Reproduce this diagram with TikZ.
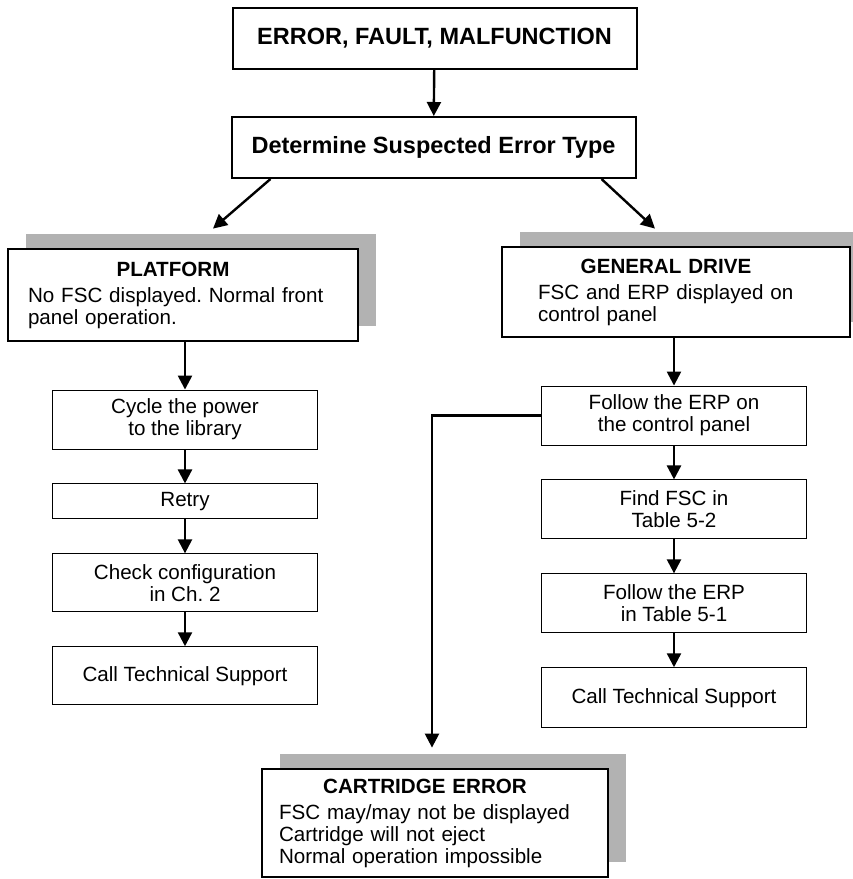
\documentclass[tikz,border=0pt]{standalone}
\usepackage{fontspec}
\setmainfont{Liberation Sans}
\usetikzlibrary{positioning,arrows.meta,shadows}
\definecolor{shadowgray}{HTML}{B2B2B2}
\newcommand\boxtitle[1]{\makebox[\hsize][c]{\bfseries #1\hspace*{20pt}}\\[4pt]}
\frenchspacing

\begin{document}
\begin{tikzpicture}[x=1pt, y=-1pt,
  node distance=34pt,
  font=\fontsize{20.6}{22}\selectfont,
  topbox/.style={draw, line width=2pt, font=\fontsize{23.5}{25}\selectfont\bfseries, minimum height=61pt, minimum width=404pt},
  head/.style={draw, line width=2.8pt, fill=white, align=left, inner ysep=0pt,
    drop shadow={shadow xshift=18pt, shadow yshift=15pt, fill=shadowgray, opacity=1}},
  stepbox/.style={draw, line width=0.9pt, align=center, minimum width=265pt, inner sep=0pt},
  arr/.style={-{Triangle[length=14pt, width=14pt]}, line width=2.4pt}]
  \useasboundingbox (0,0) rectangle (853,879);
  \node[topbox] (err) at (434.5,38.5) {ERROR, FAULT, MALFUNCTION};
  \node[topbox] (det) at (433.5,147.5) {Determine Suspected Error Type};
  \node[head, text width=310pt, inner xsep=20pt, minimum height=92pt] (plat) at (183,295) {\boxtitle{PLATFORM}No FSC displayed. Normal front\\panel operation.};
  \node[head, text width=276pt, inner xsep=36pt, minimum height=90pt] (gd) at (676,292) {\boxtitle{GENERAL DRIVE}FSC and ERP displayed on\\control panel};
  \node[head, text width=312pt, inner xsep=17pt, minimum height=108pt] (cart) at (435,823) {\boxtitle{CARTRIDGE ERROR}FSC may/may not be displayed\\Cartridge will not eject\\Normal operation impossible};

  % left column
  \node[stepbox, minimum height=59pt] (cyc) at (185,419.5) {Cycle the power\\to the library};
  \node[stepbox, minimum height=35pt, below=of cyc] (retry) {Retry};
  \node[stepbox, minimum height=58pt, below=of retry] (cfg) {Check configuration\\in Ch. 2};
  \node[stepbox, minimum height=58pt, below=of cfg] (calla) {Call Technical Support};
  % right column
  \node[stepbox, minimum height=59pt] (erp) at (674,415.5) {Follow the ERP on\\the control panel};
  \node[stepbox, minimum height=59pt, below=of erp] (fsc) {Find FSC in\\Table 5-2};
  \node[stepbox, minimum height=59pt, below=of fsc] (tab) {Follow the ERP\\in Table 5-1};
  \node[stepbox, minimum height=60pt, below=of tab] (callb) {Call Technical Support};

  \draw[arr] (err) -- (det);
  \draw[arr] ([xshift=40pt]det.south west) -- ([xshift=30pt, yshift=19pt]plat.north);
  \draw[arr] ([xshift=-35pt]det.south east) -- ([xshift=-21pt, yshift=17pt]gd.north);
  \draw[arr] (plat.south -| cyc.north) -- (cyc.north);
  \draw[arr] (cyc) -- (retry);
  \draw[arr] (retry) -- (cfg);
  \draw[arr] (cfg) -- (calla);
  \draw[arr] (gd.south -| erp.north) -- (erp.north);
  \draw[arr] (erp) -- (fsc);
  \draw[arr] (fsc) -- (tab);
  \draw[arr] (tab) -- (callb);
  \draw[arr] (erp.west) -| ([xshift=-3pt, yshift=20pt]cart.north);
\end{tikzpicture}
\end{document}
